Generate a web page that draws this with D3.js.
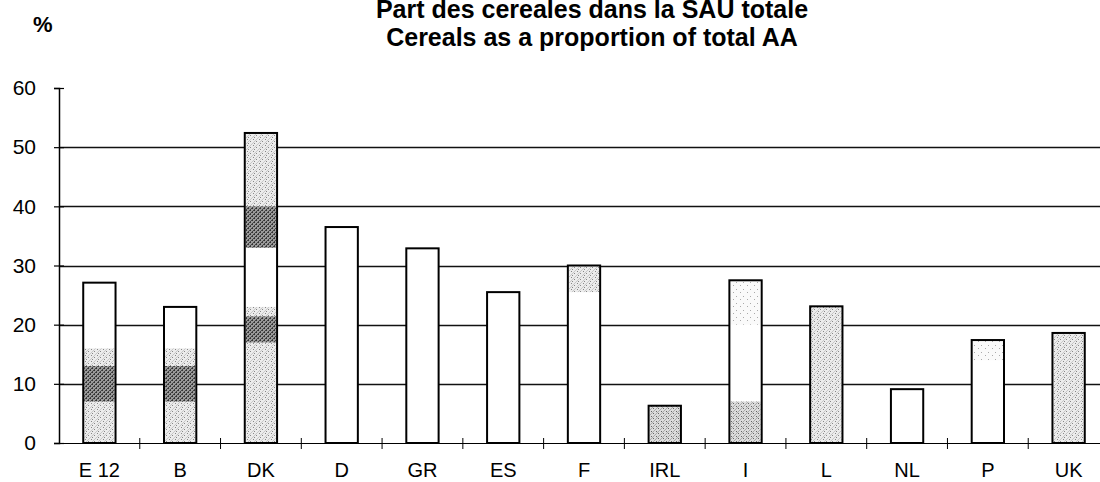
<!DOCTYPE html>
<html>
<head>
<meta charset="UTF-8">
<title>Cereals as a proportion of total AA</title>
<script src="https://cdn.jsdelivr.net/npm/d3@7"></script>
<style>
  body { margin: 0; background: #fff; }
  text { font-family: "Liberation Sans", Arial, sans-serif; fill: #000; }
</style>
</head>
<body>
<div class="container"></div>
<script>
// data
var categories = ["E 12", "B", "DK", "D", "GR", "ES", "F", "IRL", "I", "L", "NL", "P", "UK"];
var values = [27.1, 23.0, 52.4, 36.5, 32.9, 25.5, 30.0, 6.3, 27.5, 23.1, 9.1, 17.4, 18.6];
var yTicks = [0, 10, 20, 30, 40, 50, 60];
var gridValues = [10, 20, 30, 40, 50];
var titleLines = ["Part des cereales dans la SAU totale", "Cereals as a proportion of total AA"];

// shaded (stippled) parts of the bars, as seen in the scan
var shadeCats  = ["E 12", "E 12", "B", "B", "DK", "DK", "DK", "DK", "F",   "IRL", "I",  "I",    "L",  "P",   "UK"];
var shadeFrom  = [0,      7,      0,   7,   0,    17,   33,   33,   25.5,  0,     20,   0,      0,    14,    0];
var shadeTo    = [16,     13,     16,  13,  23,   21.4, 52.4, 40,   30.0,  6.3,   27.5, 7,      23.1, 17.4,  18.6];
var shadeTone  = ["light","dark", "light","dark","light","dark","light","dark","light","mid","faint","mid","light","faint","light"];

var width = 1100, height = 482;
var plotLeft = 59, plotRight = 1109, plotTop = 88, plotBottom = 443;

var svg = d3.select(".container").append("svg")
    .attr("width", width)
    .attr("height", height);

// texture patterns for the scanned halftone look
var defs = svg.append("defs");
function stipple(id, bg, dot, size, dots, hatch) {
    var p = defs.append("pattern")
        .attr("id", id)
        .attr("patternUnits", "userSpaceOnUse")
        .attr("width", size).attr("height", size);
    p.append("rect").attr("width", size).attr("height", size).attr("fill", bg);
    dots.forEach(function (d) {
        p.append("rect").attr("x", d[0]).attr("y", d[1]).attr("width", 1).attr("height", 1).attr("fill", dot);
    });
    if (hatch) {
        p.append("path")
            .attr("d", "M0," + size + " L" + size + ",0")
            .attr("stroke", hatch).attr("stroke-width", 1);
    }
}
stipple("faint", "#fafafa", "#aaa", 7, [[1, 2], [5, 5]], null);
stipple("light", "#ececec", "#888", 6, [[1, 1], [4, 3], [2, 5]], "#c8c8c8");
stipple("mid", "#dcdcdc", "#666", 5, [[1, 1], [3, 3], [0, 4]], "#aaa");
stipple("dark", "#9a9a9a", "#333", 4, [[0, 0], [2, 2]], "#444");

var x = d3.scaleBand()
    .domain(categories)
    .range([plotLeft, plotRight])
    .paddingInner(0.6)
    .paddingOuter(0.3);

var y = d3.scaleLinear()
    .domain([0, 60])
    .range([plotBottom, plotTop]);

// title
svg.append("g").selectAll("text")
    .data(titleLines)
    .enter().append("text")
    .attr("x", 592)
    .attr("y", function (d, i) { return 18 + i * 28; })
    .attr("text-anchor", "middle")
    .style("font-size", "25px")
    .style("font-weight", "bold")
    .text(function (d) { return d; });

svg.append("text")
    .attr("x", 33)
    .attr("y", 32)
    .style("font-size", "22px")
    .style("font-weight", "bold")
    .text("%");

// gridlines
svg.append("g").selectAll("line")
    .data(gridValues)
    .enter().append("line")
    .attr("x1", plotLeft).attr("x2", width)
    .attr("y1", function (d) { return Math.round(y(d)) + 0.5; })
    .attr("y2", function (d) { return Math.round(y(d)) + 0.5; })
    .attr("stroke", "#111")
    .attr("stroke-width", 1.3);

// bars
var bars = svg.append("g");
bars.selectAll("rect.bar")
    .data(categories)
    .enter().append("rect")
    .attr("class", "bar")
    .attr("x", function (d) { return x(d); })
    .attr("y", function (d, i) { return y(values[i]); })
    .attr("width", x.bandwidth())
    .attr("height", function (d, i) { return y(0) - y(values[i]); })
    .attr("fill", "#fff");

bars.selectAll("rect.shade")
    .data(shadeCats)
    .enter().append("rect")
    .attr("class", "shade")
    .attr("x", function (d) { return x(d) + 1; })
    .attr("y", function (d, i) { return y(shadeTo[i]); })
    .attr("width", x.bandwidth() - 2)
    .attr("height", function (d, i) { return y(shadeFrom[i]) - y(shadeTo[i]); })
    .attr("fill", function (d, i) { return "url(#" + shadeTone[i] + ")"; });

bars.selectAll("rect.outline")
    .data(categories)
    .enter().append("rect")
    .attr("class", "outline")
    .attr("x", function (d) { return x(d); })
    .attr("y", function (d, i) { return y(values[i]); })
    .attr("width", x.bandwidth())
    .attr("height", function (d, i) { return y(0) - y(values[i]); })
    .attr("fill", "none")
    .attr("stroke", "#000")
    .attr("stroke-width", 2);

// y axis
var yAxis = svg.append("g")
    .attr("transform", "translate(" + plotLeft + ",0)")
    .call(d3.axisLeft(y).tickValues(yTicks).tickSize(5).tickPadding(18));
yAxis.select(".domain").attr("stroke", "#000").attr("stroke-width", 1.5);
yAxis.selectAll(".tick line").attr("x1", 5).attr("x2", -5).attr("stroke-width", 1.2);
yAxis.selectAll(".tick text")
    .style("font-size", "21px")
    .style("font-family", "Liberation Sans, Arial, sans-serif")
    .attr("fill", "#000");

// x axis
var xAxis = svg.append("g")
    .attr("transform", "translate(0," + plotBottom + ")")
    .call(d3.axisBottom(x).tickSize(0).tickPadding(20));
xAxis.select(".domain").attr("stroke", "#000").attr("stroke-width", 1.2);
xAxis.selectAll(".tick text")
    .style("font-size", "20px")
    .style("font-family", "Liberation Sans, Arial, sans-serif")
    .attr("fill", "#000");

// small marks between categories
xAxis.append("g").selectAll("line")
    .data(categories.slice(1))
    .enter().append("line")
    .attr("x1", function (d) { return x(d) - x.step() * x.paddingInner() / 2; })
    .attr("x2", function (d) { return x(d) - x.step() * x.paddingInner() / 2; })
    .attr("y1", -5).attr("y2", 6)
    .attr("stroke", "#000");
</script>
</body>
</html>
